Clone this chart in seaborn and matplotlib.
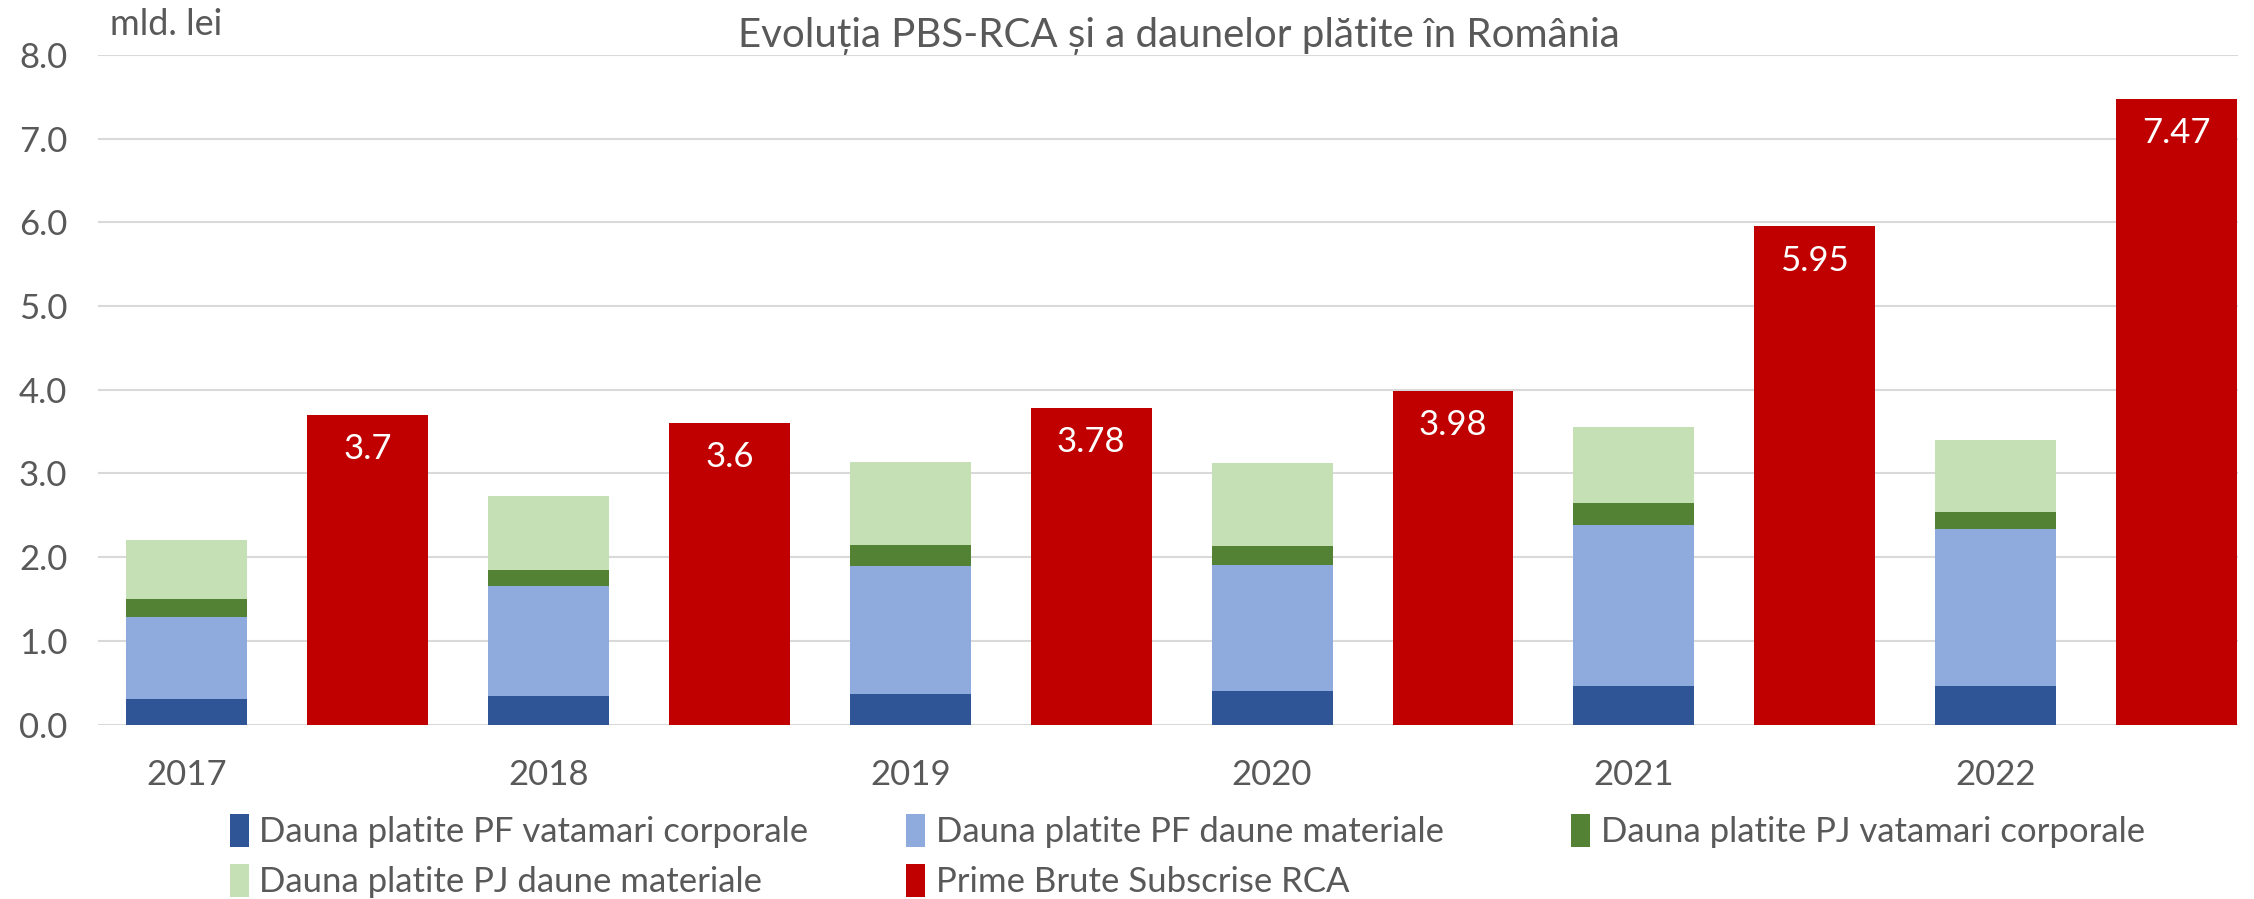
import numpy as np
import pandas as pd
import matplotlib
matplotlib.use("Agg")
import matplotlib.pyplot as plt
import seaborn as sns
from matplotlib.patches import Patch

# ---- data ----
years = [2017, 2018, 2019, 2020, 2021, 2022]
pf_vatamari = [0.30, 0.34, 0.36, 0.40, 0.46, 0.46]
pf_materiale = [0.99, 1.31, 1.54, 1.51, 1.92, 1.88]
pj_vatamari = [0.21, 0.20, 0.24, 0.22, 0.27, 0.20]
pj_materiale = [0.70, 0.88, 1.00, 0.99, 0.90, 0.86]
prime_rca = [3.70, 3.60, 3.78, 3.98, 5.95, 7.47]
prime_labels = ["3.7", "3.6", "3.78", "3.98", "5.95", "7.47"]
series_names = ["Dauna platite PF vatamari corporale",
                "Dauna platite PF daune materiale",
                "Dauna platite PJ vatamari corporale",
                "Dauna platite PJ daune materiale",
                "Prime Brute Subscrise RCA"]
title = "Evoluția PBS-RCA și a daunelor plătite în România"
unit_label = "mld. lei"

col_pf_vat = "#2F5597"
col_pf_mat = "#8FAADC"
col_pj_vat = "#548235"
col_pj_mat = "#C5E0B4"
col_prime = "#C00000"
txt_col = "#595959"

sns.set_theme(style="white")
plt.rcParams["font.family"] = ["Lato", "DejaVu Sans"]

stack_x = [y - 0.25 for y in years]
prime_x = [y + 0.25 for y in years]
c1 = np.array(pf_vatamari)
c2 = c1 + np.array(pf_materiale)
c3 = c2 + np.array(pj_vatamari)
c4 = c3 + np.array(pj_materiale)
df = pd.DataFrame({"x": stack_x, "c1": c1, "c2": c2, "c3": c3, "c4": c4})
dfp = pd.DataFrame({"x": prime_x, "v": prime_rca})

fig = plt.figure(figsize=(22.54, 8.99), dpi=100)
ax = fig.add_axes([0.0434, 0.194, 0.9495, 0.745])

bw = 0.334
for col, c in [("c4", col_pj_mat), ("c3", col_pj_vat), ("c2", col_pf_mat), ("c1", col_pf_vat)]:
    sns.barplot(data=df, x="x", y=col, native_scale=True, orient="x", width=bw,
                color=c, saturation=1, errorbar=None, linewidth=0, ax=ax)
sns.barplot(data=dfp, x="x", y="v", native_scale=True, orient="x", width=bw,
            color=col_prime, saturation=1, errorbar=None, linewidth=0, ax=ax)

for x, v, lab in zip(prime_x, prime_rca, prime_labels):
    ax.annotate(lab, xy=(x, v), xytext=(0, -13), textcoords="offset points",
                ha="center", va="top", color="white", fontsize=25)

ax.set_xlim(2016.504, 2022.42)
ax.set_ylim(0, 8)
ax.set_yticks(np.arange(0, 8.01, 1.0))
ax.set_yticklabels([f"{t:.1f}" for t in np.arange(0, 8.01, 1.0)])
ax.set_xticks(stack_x)
ax.set_xticklabels([str(y) for y in years])
ax.tick_params(axis="both", length=0, labelsize=25, colors=txt_col)
ax.tick_params(axis="x", pad=25)
ax.tick_params(axis="y", pad=22)
ax.yaxis.grid(True, color="#D9D9D9", linewidth=1.5)
ax.set_axisbelow(True)
for s in ax.spines.values():
    s.set_visible(False)
ax.set_xlabel("")
ax.set_ylabel("")

fig.text(0.523, 0.96, title, ha="center", va="center", fontsize=29, color=txt_col)
fig.text(0.049, 0.973, unit_label, ha="left", va="center", fontsize=26, color=txt_col)

cols = [col_pf_vat, col_pf_mat, col_pj_vat, col_pj_mat, col_prime]
handles = [Patch(facecolor=c, edgecolor="none") for c in cols]
legend_cols = [[0, 3], [1, 4], [2]]
legend_x = [0.102, 0.402, 0.697]
for idxs, lx in zip(legend_cols, legend_x):
    fig.legend([handles[i] for i in idxs], [series_names[i] for i in idxs],
               loc="upper left", bbox_to_anchor=(lx, 0.095), ncol=1, frameon=False,
               fontsize=25, labelcolor=txt_col, handlelength=0.55, handleheight=1.1,
               handletextpad=0.3, labelspacing=0.45, borderpad=0, borderaxespad=0)

fig.savefig("out.png", dpi=100)
